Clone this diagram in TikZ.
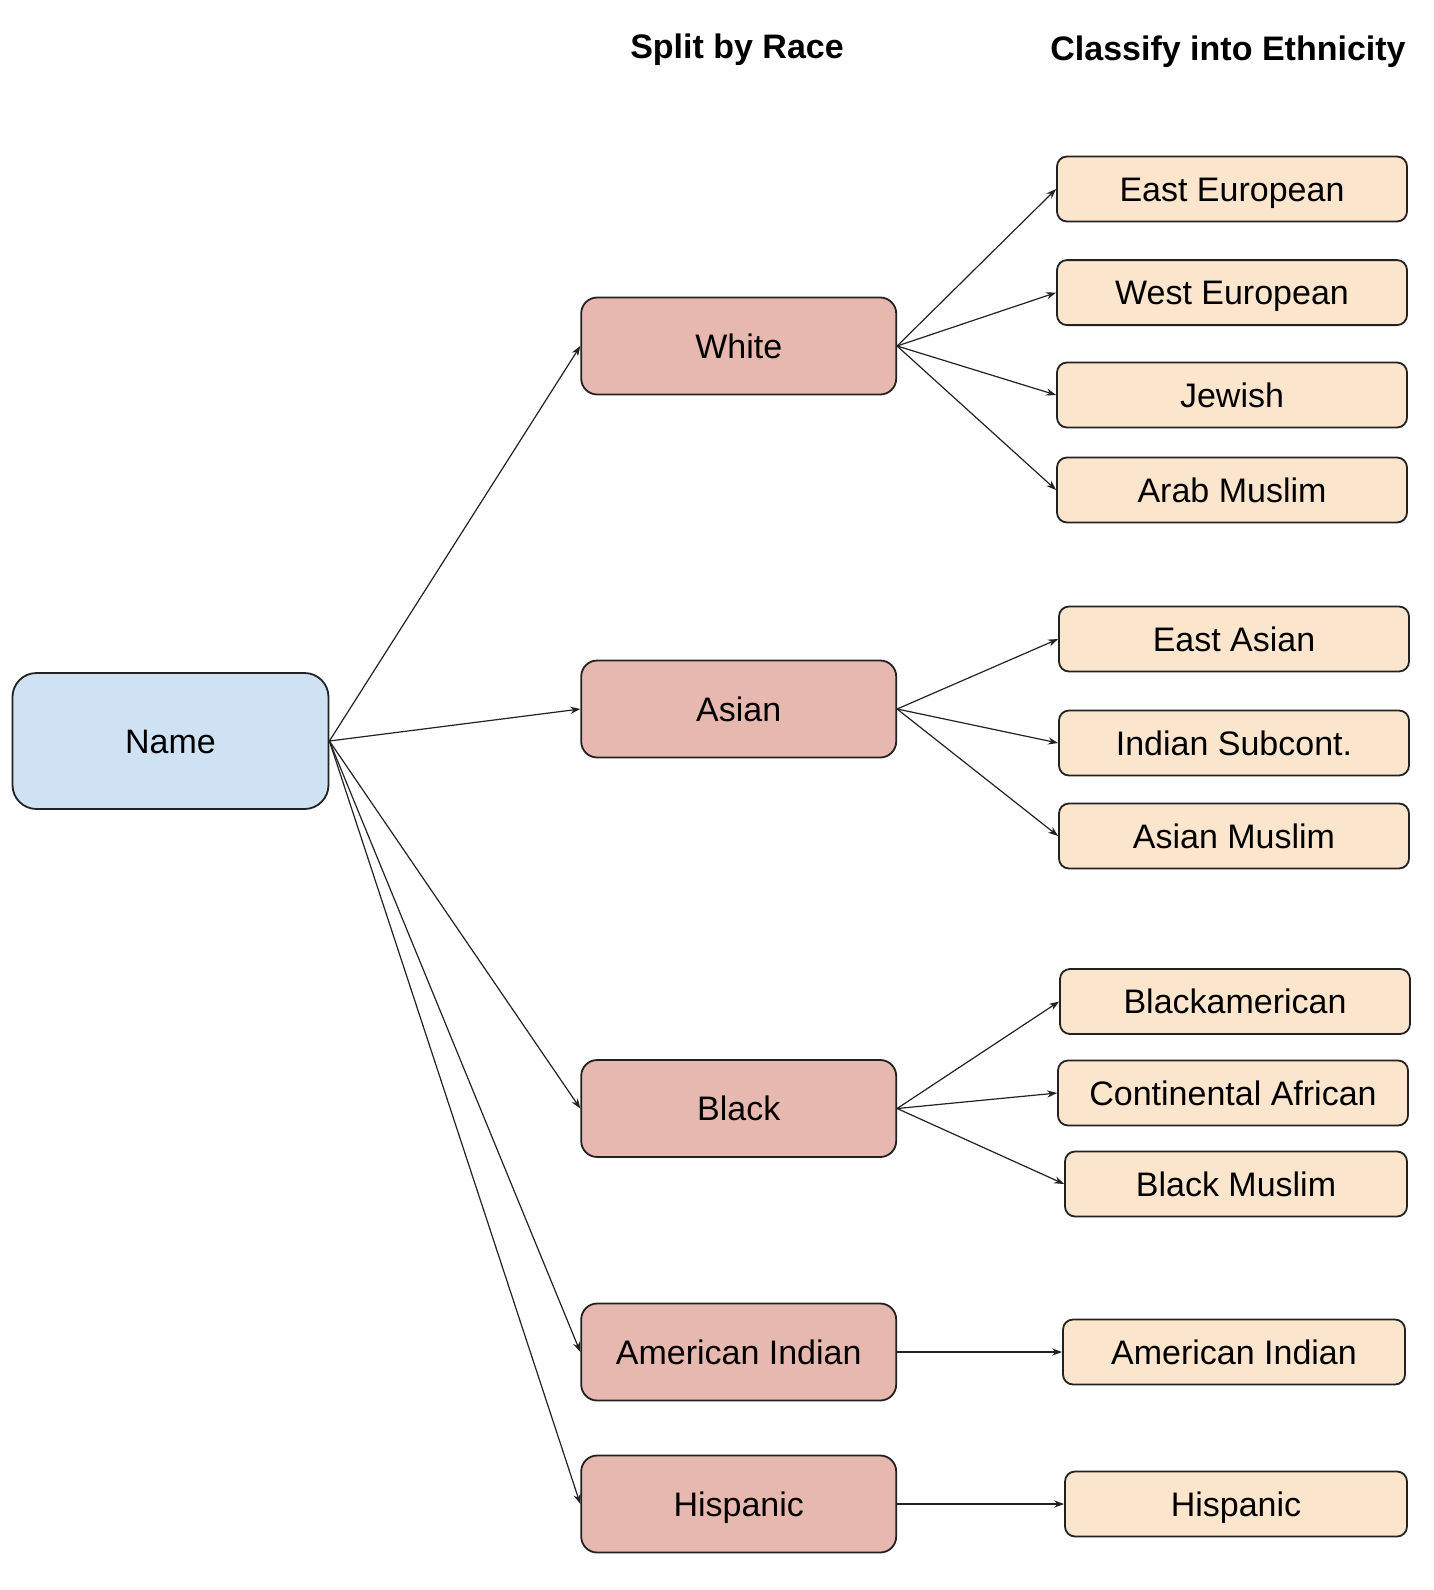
\documentclass[tikz,border=0pt]{standalone}
\usepackage{fontspec}
\setmainfont{Liberation Sans}
\usetikzlibrary{arrows.meta}
\definecolor{namefill}{HTML}{CFE2F3}
\definecolor{racefill}{HTML}{E6B8AF}
\definecolor{ethfill}{HTML}{FCE5CD}
\definecolor{edgecol}{HTML}{222222}
\tikzset{
  box/.style={draw=edgecol, line width=0.9pt, align=center, inner sep=0pt, text height=12.2pt, text depth=0pt, font=\fontsize{17}{20}\selectfont},
  namebox/.style={box, fill=namefill, rounded corners=12pt, minimum width=158pt, minimum height=68pt},
  racebox/.style={box, fill=racefill, rounded corners=8pt, minimum width=157.5pt, minimum height=48.5pt},
  ethbox/.style={box, fill=ethfill, rounded corners=5pt, minimum width=175pt, minimum height=32.5pt},
  header/.style={font=\fontsize{17}{20}\selectfont\bfseries},
  conn/.style={draw=edgecol, line width=0.6pt, -{Stealth[length=5pt,width=3.6pt]}}
}
\begin{document}
\begin{tikzpicture}[x=0.5pt,y=-0.5pt]
\useasboundingbox (0,0) rectangle (1434,1590);
\node[header] (h1) at (737,50) {Split by Race};
\node[header] (h2) at (1228,52) {Classify into Ethnicity};

\node[namebox] (name) at (170.5,741) {Name};

\node[racebox] (white) at (738.7,346) {White};
\node[racebox] (asian) at (738.7,709) {Asian};
\node[racebox] (black) at (738.7,1108.5) {Black};
\node[racebox] (amind) at (738.7,1352) {American Indian};
\node[racebox] (hisp) at (738.7,1504) {Hispanic};

\node[ethbox] (eeu) at (1232,189) {East European};
\node[ethbox] (weu) at (1232,292.6) {West European};
\node[ethbox] (jew) at (1232,395) {Jewish};
\node[ethbox] (arab) at (1232,490) {Arab Muslim};
\node[ethbox] (easia) at (1234,639) {East Asian};
\node[ethbox] (indsub) at (1234,743) {Indian Subcont.};
\node[ethbox] (amus) at (1234,836) {Asian Muslim};
\node[ethbox] (bam) at (1235,1001.5) {Blackamerican};
\node[ethbox] (cafr) at (1233,1093) {Continental African};
\node[ethbox, minimum width=171pt] (bmus) at (1236,1184) {Black Muslim};
\node[ethbox, minimum width=171pt] (eamind) at (1234,1352) {American Indian};
\node[ethbox, minimum width=171pt] (ehisp) at (1236,1504) {Hispanic};

\foreach \t in {white,asian,black,amind,hisp}
  \draw[conn] (name.east) -- (\t.west);
\foreach \t in {eeu,weu,jew,arab}
  \draw[conn] (white.east) -- (\t.west);
\foreach \t in {easia,indsub,amus}
  \draw[conn] (asian.east) -- (\t.west);
\foreach \t in {bam,cafr,bmus}
  \draw[conn] (black.east) -- (\t.west);
\draw[conn] (amind.east) -- (eamind.west);
\draw[conn] (hisp.east) -- (ehisp.west);
\end{tikzpicture}
\end{document}
